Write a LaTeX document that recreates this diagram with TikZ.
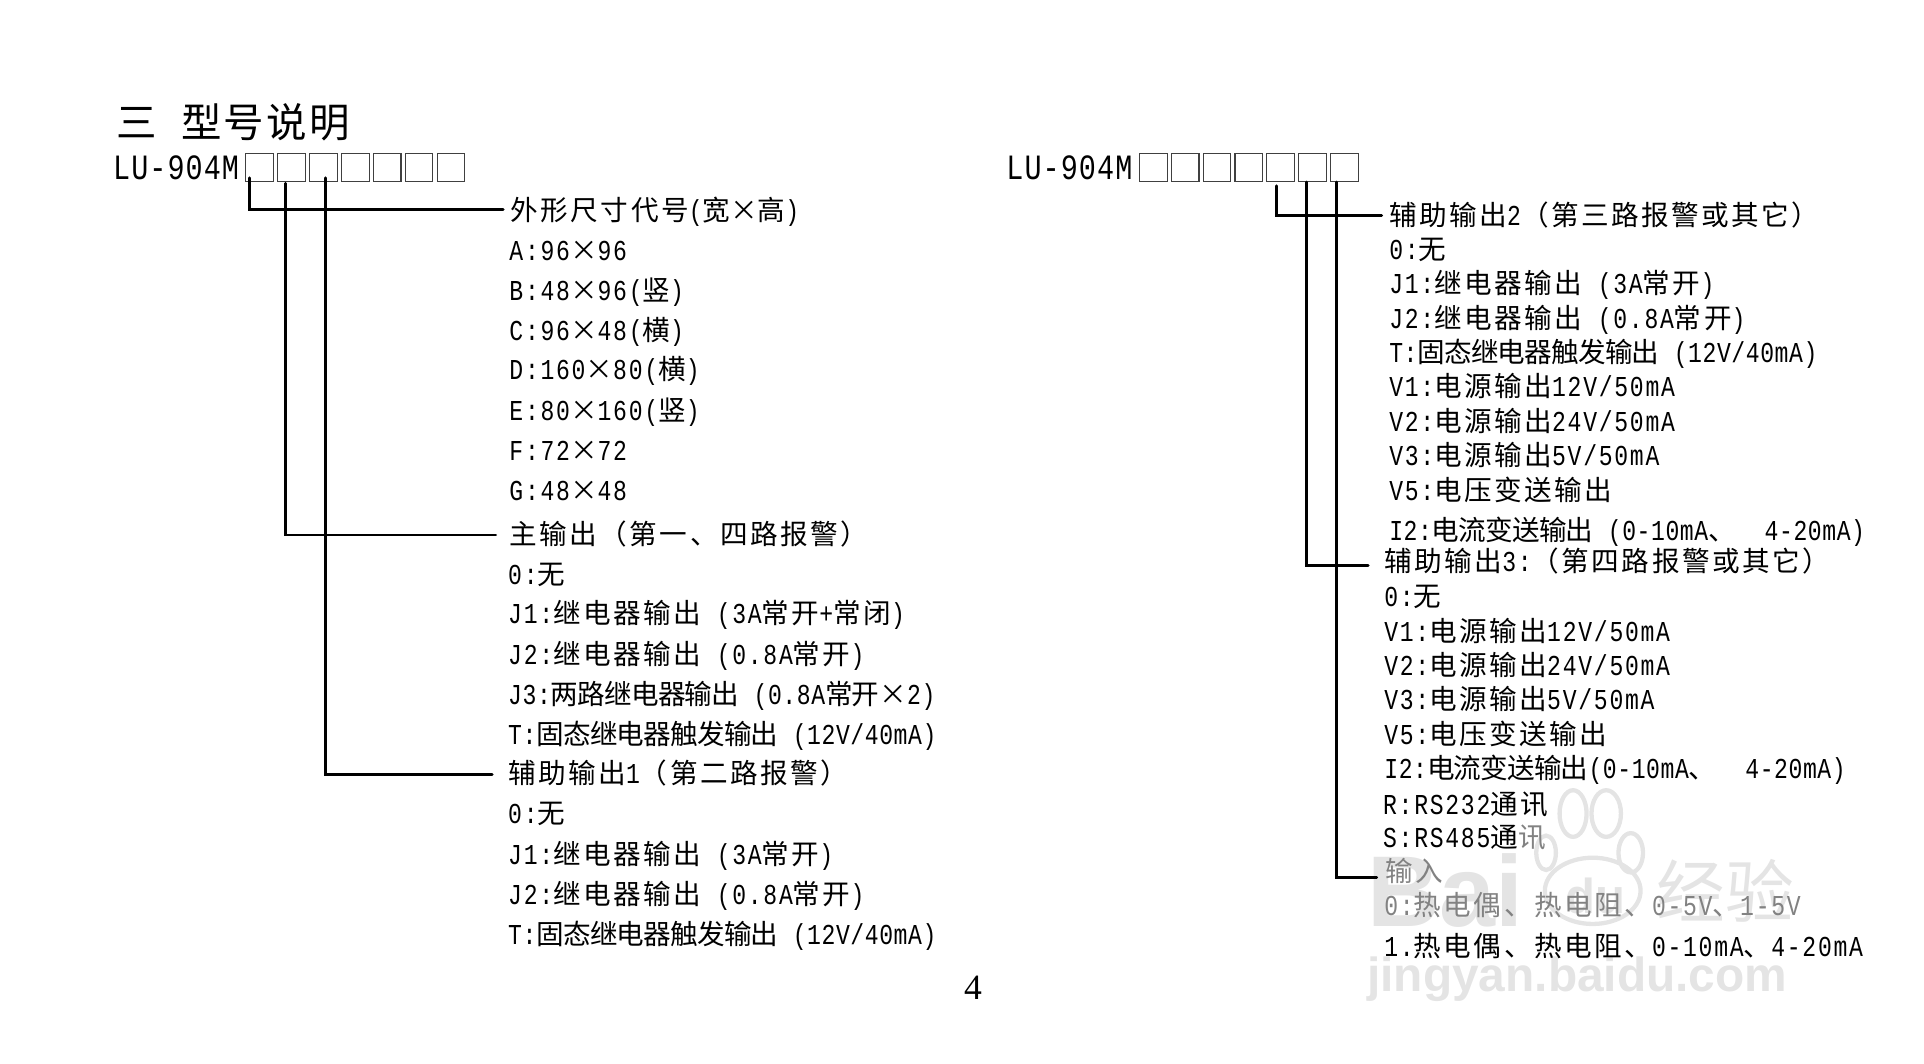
\documentclass[tikz,border=0pt]{standalone}
\usepackage{fontspec}
\setmainfont{Liberation Mono}[FakeStretch=0.8]
\newfontfamily\cjkfont{Noto Sans CJK SC}
\newfontfamily\cjkwide{Noto Sans CJK SC}[RawFeature=+fwid]
\newfontfamily\wmfont{Liberation Sans}[BoldFont=Liberation Sans Bold]
\newfontfamily\numfont{Liberation Serif}
\newcommand{\trk}{9}
\newcommand{\zh}[1]{{\cjkfont\fontsize{22.5}{24}\selectfont\addfontfeature{LetterSpace=\trk}#1}}
\newcommand{\tm}{{\cjkwide\fontsize{22.5}{24}\selectfont\addfontfeature{LetterSpace=\trk}×}}
\definecolor{mygray}{RGB}{228, 228, 228}
\definecolor{myfade}{RGB}{130, 130, 130}
\tikzset{
 cell/.style={draw=black!75, line width=0.9pt, minimum width=22.6pt, minimum height=23pt, inner sep=0pt},
 lbl/.style={anchor=west, inner sep=0pt, text height=21pt, text depth=4pt, font=\fontsize{23.5}{26}\selectfont\addfontfeature{LetterSpace=6}},
 lblt/.style={lbl, font=\renewcommand{\trk}{-3}\fontsize{23.5}{26}\selectfont\addfontfeature{LetterSpace=2}},
 part/.style={anchor=west, inner sep=0pt, font=\fontsize{29}{31}\selectfont\addfontfeature{LetterSpace=3}},
 lead/.style={line width=2.4pt, line cap=round},
 wm/.style={inner sep=0pt, text=mygray},
 paw/.style={draw=mygray, line width=3.5pt}
}

\begin{document}
\begin{tikzpicture}[x=1pt,y=-1pt]
 \useasboundingbox (0,0) rectangle (1568,867);

 % watermark lies under the text
 \node[wm, anchor=west, font=\wmfont\bfseries\fontsize{82}{84}\selectfont] (wmbai) at (1114,726) {Bai};
 \node[wm, font=\wmfont\bfseries\fontsize{40}{42}\selectfont] (wmdu) at (1300,730) {du};
 \node[wm, anchor=west, font=\cjkfont\fontsize{56}{58}\selectfont] (wmjy) at (1350,726) {经验};
 \node[wm, anchor=west, font=\wmfont\bfseries\fontsize{39}{41}\selectfont] (wmurl) at (1114,798) {jingyan.baidu.com};
 \draw[paw] (1282,663) ellipse (11 and 19);
 \draw[paw] (1309,663) ellipse (12 and 19);
 \draw[paw] (1329,695) ellipse (10 and 16);
 \draw[paw] (1260,695) ellipse (8 and 14);
 \draw[paw] (1298,726) ellipse (39 and 27);

 \node[anchor=west, inner sep=0pt, font=\cjkfont\fontsize{33}{35}\selectfont\addfontfeature{LetterSpace=6}] (title) at (95,100) {三\hspace{10pt} 型号说明};
 \node[part] (parta) at (92,137) {LU-904M};
 \node[part] (partb) at (820,137) {LU-904M};

 \foreach \i in {1,...,7}{
  \node[cell] (la\i) at ({211.5+26*(\i-1)},136.5) {};
  \node[cell] (lb\i) at ({939.8+26*(\i-1)},136.5) {};
 }

 % left column
 \node[lbl] (size) at (416,171) {\zh{外形尺寸代号}(\zh{宽}\tm\zh{高})};
 \node[lbl] (sizea) at (415,204) {A:96\tm 96};
 \node[lbl] (sizeb) at (415,236) {B:48\tm 96(\zh{竖})};
 \node[lbl] (sizec) at (415,269) {C:96\tm 48(\zh{横})};
 \node[lbl] (sized) at (415,301) {D:160\tm 80(\zh{横})};
 \node[lbl] (sizee) at (415,334) {E:80\tm 160(\zh{竖})};
 \node[lbl] (sizef) at (415,367) {F:72\tm 72};
 \node[lbl] (sizeg) at (415,399) {G:48\tm 48};
 \node[lbl] (main) at (415,435) {\zh{主输出（第一、四路报警）}};
 \node[lbl] (mainz) at (414,468) {0:\zh{无}};
 \node[lbl] (mainja) at (414,500) {J1:\zh{继电器输出} (3A\zh{常开}+\zh{常闭})};
 \node[lbl] (mainjb) at (414,533) {J2:\zh{继电器输出} (0.8A\zh{常开})};
 \node[lblt] (mainjc) at (414,566) {J3:\zh{两路继电器输出} (0.8A\zh{常开}\tm 2)};
 \node[lblt] (maint) at (414,598) {T:\zh{固态继电器触发输出} (12V/40mA)};
 \node[lbl] (auxa) at (414,630) {\zh{辅助输出}1\zh{（第二路报警）}};
 \node[lbl] (auxaz) at (414,663) {0:\zh{无}};
 \node[lbl] (auxaja) at (414,696) {J1:\zh{继电器输出} (3A\zh{常开})};
 \node[lbl] (auxajb) at (414,729) {J2:\zh{继电器输出} (0.8A\zh{常开})};
 \node[lblt] (auxat) at (414,761) {T:\zh{固态继电器触发输出} (12V/40mA)};

 % right column
 \node[lbl] (auxb) at (1132,175) {\zh{辅助输出}2\zh{（第三路报警或其它）}};
 \node[lbl] (auxbz) at (1132,203) {0:\zh{无}};
 \node[lbl] (auxbja) at (1132,231) {J1:\zh{继电器输出} (3A\zh{常开})};
 \node[lbl] (auxbjb) at (1132,259) {J2:\zh{继电器输出} (0.8A\zh{常开})};
 \node[lblt] (auxbt) at (1132,287) {T:\zh{固态继电器触发输出} (12V/40mA)};
 \node[lbl] (auxbva) at (1132,315) {V1:\zh{电源输出}12V/50mA};
 \node[lbl] (auxbvb) at (1132,343) {V2:\zh{电源输出}24V/50mA};
 \node[lbl] (auxbvc) at (1132,371) {V3:\zh{电源输出}5V/50mA};
 \node[lbl] (auxbvd) at (1132,399) {V5:\zh{电压变送输出}};
 \node[lblt] (auxbi) at (1132,432) {I2:\zh{电流变送输出} (0-10mA\zh{、}\ \ 4-20mA)};
 \node[lbl] (auxc) at (1128,457) {\zh{辅助输出}3:\zh{（第四路报警或其它）}};
 \node[lbl] (auxcz) at (1128,486) {0:\zh{无}};
 \node[lbl] (auxcva) at (1128,514) {V1:\zh{电源输出}12V/50mA};
 \node[lbl] (auxcvb) at (1128,542) {V2:\zh{电源输出}24V/50mA};
 \node[lbl] (auxcvc) at (1128,570) {V3:\zh{电源输出}5V/50mA};
 \node[lbl] (auxcvd) at (1128,598) {V5:\zh{电压变送输出}};
 \node[lblt] (auxci) at (1128,626) {I2:\zh{电流变送输出}(0-10mA\zh{、}\ \ 4-20mA)};
 \node[lbl] (auxcr) at (1127,655) {R:RS232\zh{通讯}};
 \node[lbl] (auxcs) at (1127,682) {S:RS485\zh{通}\textcolor{myfade}{\zh{讯}}};
 \node[lbl, text=myfade] (input) at (1129,710) {\zh{输入}};
 \node[lbl, text=myfade] (inputz) at (1128,738) {0:\zh{热电偶、热电阻、}0-5V\zh{、}1-5V};
 \node[lbl] (inputa) at (1128,771) {1.\zh{热电偶、热电阻、}0-10mA\zh{、}4-20mA};

 \node[inner sep=0pt, font=\numfont\fontsize{29}{31}\selectfont] (page) at (793,805) {4};

 % leads, each starts at its box
 \draw[lead] ([xshift=3.6pt,yshift=3.5pt]la1.south west) |- ([xshift=-6pt]size.west);
 \draw[lead] ([xshift=-4.5pt,yshift=-1pt]la2.south) |- ([xshift=-11pt,yshift=-1pt]main.west);
 \draw[lead] ([xshift=1.5pt,yshift=3.5pt]la3.south) |- ([xshift=-13pt,yshift=-1pt]auxa.west);
 \draw[lead] ([xshift=-3.8pt,yshift=-3pt]lb5.south) |- ([xshift=-6pt,yshift=-1pt]auxb.west);
 \draw[lead] ([xshift=-4.8pt]lb6.south) |- ([xshift=-13pt,yshift=-4pt]auxc.west);
 \draw[lead] ([xshift=-6.8pt]lb7.south) |- ([xshift=-7pt,yshift=-5pt]input.west);

\end{tikzpicture}
\end{document}
